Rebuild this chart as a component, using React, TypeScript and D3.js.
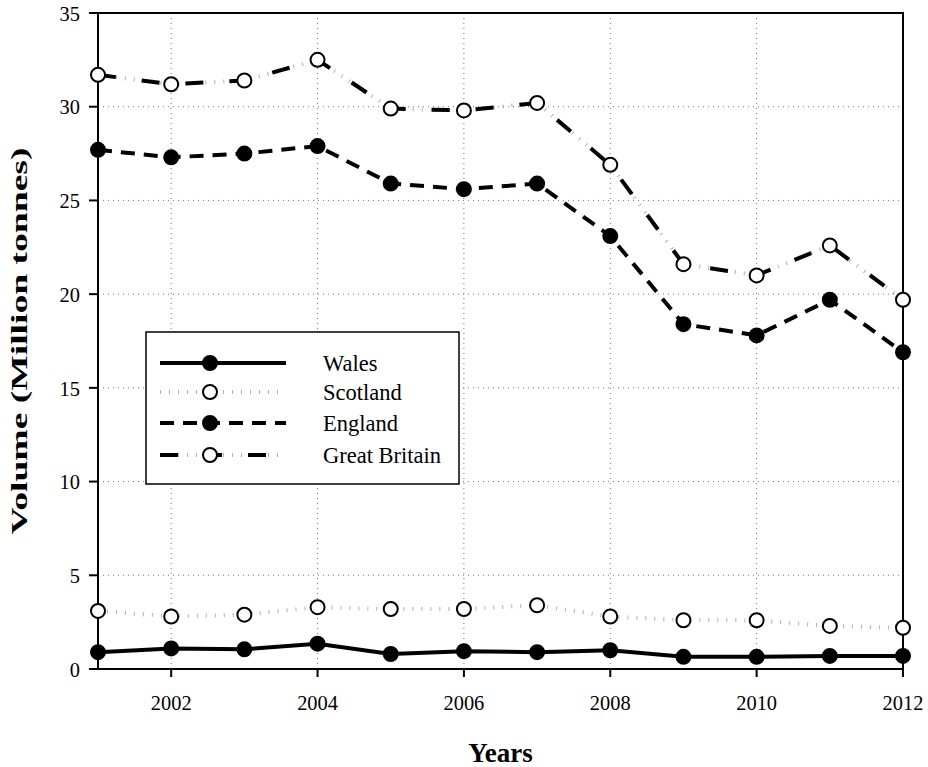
import React from 'react';
import * as d3 from 'd3';

// values (million tonnes)
const years = [2001, 2002, 2003, 2004, 2005, 2006, 2007, 2008, 2009, 2010, 2011, 2012];
const wales = [0.9, 1.1, 1.05, 1.35, 0.8, 0.95, 0.9, 1.0, 0.65, 0.65, 0.7, 0.7];
const scotland = [3.1, 2.8, 2.9, 3.3, 3.2, 3.2, 3.4, 2.8, 2.6, 2.6, 2.3, 2.2];
const england = [27.7, 27.3, 27.5, 27.9, 25.9, 25.6, 25.9, 23.1, 18.4, 17.8, 19.7, 16.9];
const greatBritain = [31.7, 31.2, 31.4, 32.5, 29.9, 29.8, 30.2, 26.9, 21.6, 21.0, 22.6, 19.7];
const xTicks = [2002, 2004, 2006, 2008, 2010, 2012];
const yTicks = [0, 5, 10, 15, 20, 25, 30, 35];

const W = 928;
const H = 767;
const m = { left: 98, right: 903, top: 13, bottom: 669 };
const FONT = '"Liberation Serif", "Times New Roman", serif';

type Series = {
  name: string;
  values: number[];
  open: boolean;
  kind: 'solid' | 'dotted' | 'dashed' | 'dashdot';
};

const series: Series[] = [
  { name: 'Wales', values: wales, open: false, kind: 'solid' },
  { name: 'Scotland', values: scotland, open: true, kind: 'dotted' },
  { name: 'England', values: england, open: false, kind: 'dashed' },
  { name: 'Great Britain', values: greatBritain, open: true, kind: 'dashdot' },
];

function Strokes({ d, kind }: { d: string; kind: Series['kind'] }) {
  if (kind === 'solid') return <path d={d} fill="none" stroke="#000" strokeWidth={4} />;
  if (kind === 'dashed')
    return <path d={d} fill="none" stroke="#000" strokeWidth={4} strokeDasharray="14 9" />;
  if (kind === 'dotted')
    return <path d={d} fill="none" stroke="#b0b0b0" strokeWidth={4} strokeDasharray="1 8" />;
  return (
    <g>
      <path d={d} fill="none" stroke="#b0b0b0" strokeWidth={4} strokeDasharray="1 8" />
      <path d={d} fill="none" stroke="#000" strokeWidth={4} strokeDasharray="18 26" />
    </g>
  );
}

export default function App() {
  const x = d3.scaleLinear().domain([2001, 2012]).range([m.left, m.right]);
  const y = d3.scaleLinear().domain([0, 35]).range([m.bottom, m.top]);
  const line = d3
    .line<number>()
    .x((_, i) => x(years[i]))
    .y((v) => y(v));

  const legX = 146;
  const legY = 332;
  const rowY = [363, 392, 423, 455];
  const digitW = 10.2; // tick digits are slightly condensed in the original

  return (
    <svg width={W} height={H} style={{ position: 'absolute', left: 0, top: 0 }} fontFamily={FONT}>
      <rect width={W} height={H} fill="#fff" />
      {/* grid */}
      {yTicks.filter((t) => t > 0 && t < 35).map((t) => (
        <line key={'gy' + t} x1={m.left} x2={m.right} y1={y(t)} y2={y(t)}
          stroke="#777" strokeWidth={1} strokeDasharray="1 4" />
      ))}
      {xTicks.filter((t) => t < 2012).map((t) => (
        <line key={'gx' + t} x1={x(t)} x2={x(t)} y1={m.top} y2={m.bottom}
          stroke="#777" strokeWidth={1} strokeDasharray="1 4" />
      ))}
      {/* frame */}
      <rect x={m.left} y={m.top} width={m.right - m.left} height={m.bottom - m.top}
        fill="none" stroke="#000" strokeWidth={2} />
      {/* y axis */}
      {yTicks.map((t) => (
        <g key={'ty' + t}>
          <line x1={m.left - 9} x2={m.left} y1={y(t)} y2={y(t)} stroke="#000" strokeWidth={2} />
          <text x={80} y={y(t)} dy="0.35em" textAnchor="end" fontSize={22}
            textLength={String(t).length * digitW} lengthAdjust="spacingAndGlyphs">{t}</text>
        </g>
      ))}
      {/* x axis */}
      {xTicks.map((t) => (
        <g key={'tx' + t}>
          <line x1={x(t)} x2={x(t)} y1={m.bottom} y2={m.bottom + 8} stroke="#000" strokeWidth={2} />
          <text x={x(t)} y={710} textAnchor="middle" fontSize={22}
            textLength={4 * digitW} lengthAdjust="spacingAndGlyphs">{t}</text>
        </g>
      ))}
      <text x={(m.left + m.right) / 2} y={762} textAnchor="middle" fontSize={27} fontWeight="bold">Years</text>
      <text transform={`translate(27, 341) rotate(-90)`} textAnchor="middle"
        fontSize={24} fontWeight="bold" textLength={387} lengthAdjust="spacingAndGlyphs">
        Volume (Million tonnes)
      </text>
      {/* series */}
      {series.map((s) => (
        <g key={s.name}>
          <Strokes d={line(s.values) || ''} kind={s.kind} />
          {s.values.map((v, i) => (
            <circle key={i} cx={x(years[i])} cy={y(v)} r={7}
              fill={s.open ? '#fff' : '#000'} stroke="#000" strokeWidth={2} />
          ))}
        </g>
      ))}
      {/* legend */}
      <rect x={legX} y={legY} width={313} height={152} fill="#fff" stroke="#000" strokeWidth={1.5} />
      {series.map((s, i) => (
        <g key={'leg' + s.name}>
          <Strokes d={`M160,${rowY[i]}H286`} kind={s.kind} />
          <circle cx={210} cy={rowY[i]} r={7} fill={s.open ? '#fff' : '#000'} stroke="#000" strokeWidth={2} />
          <text x={323} y={rowY[i]} dy="0.35em" fontSize={22.5}>{s.name}</text>
        </g>
      ))}
    </svg>
  );
}
